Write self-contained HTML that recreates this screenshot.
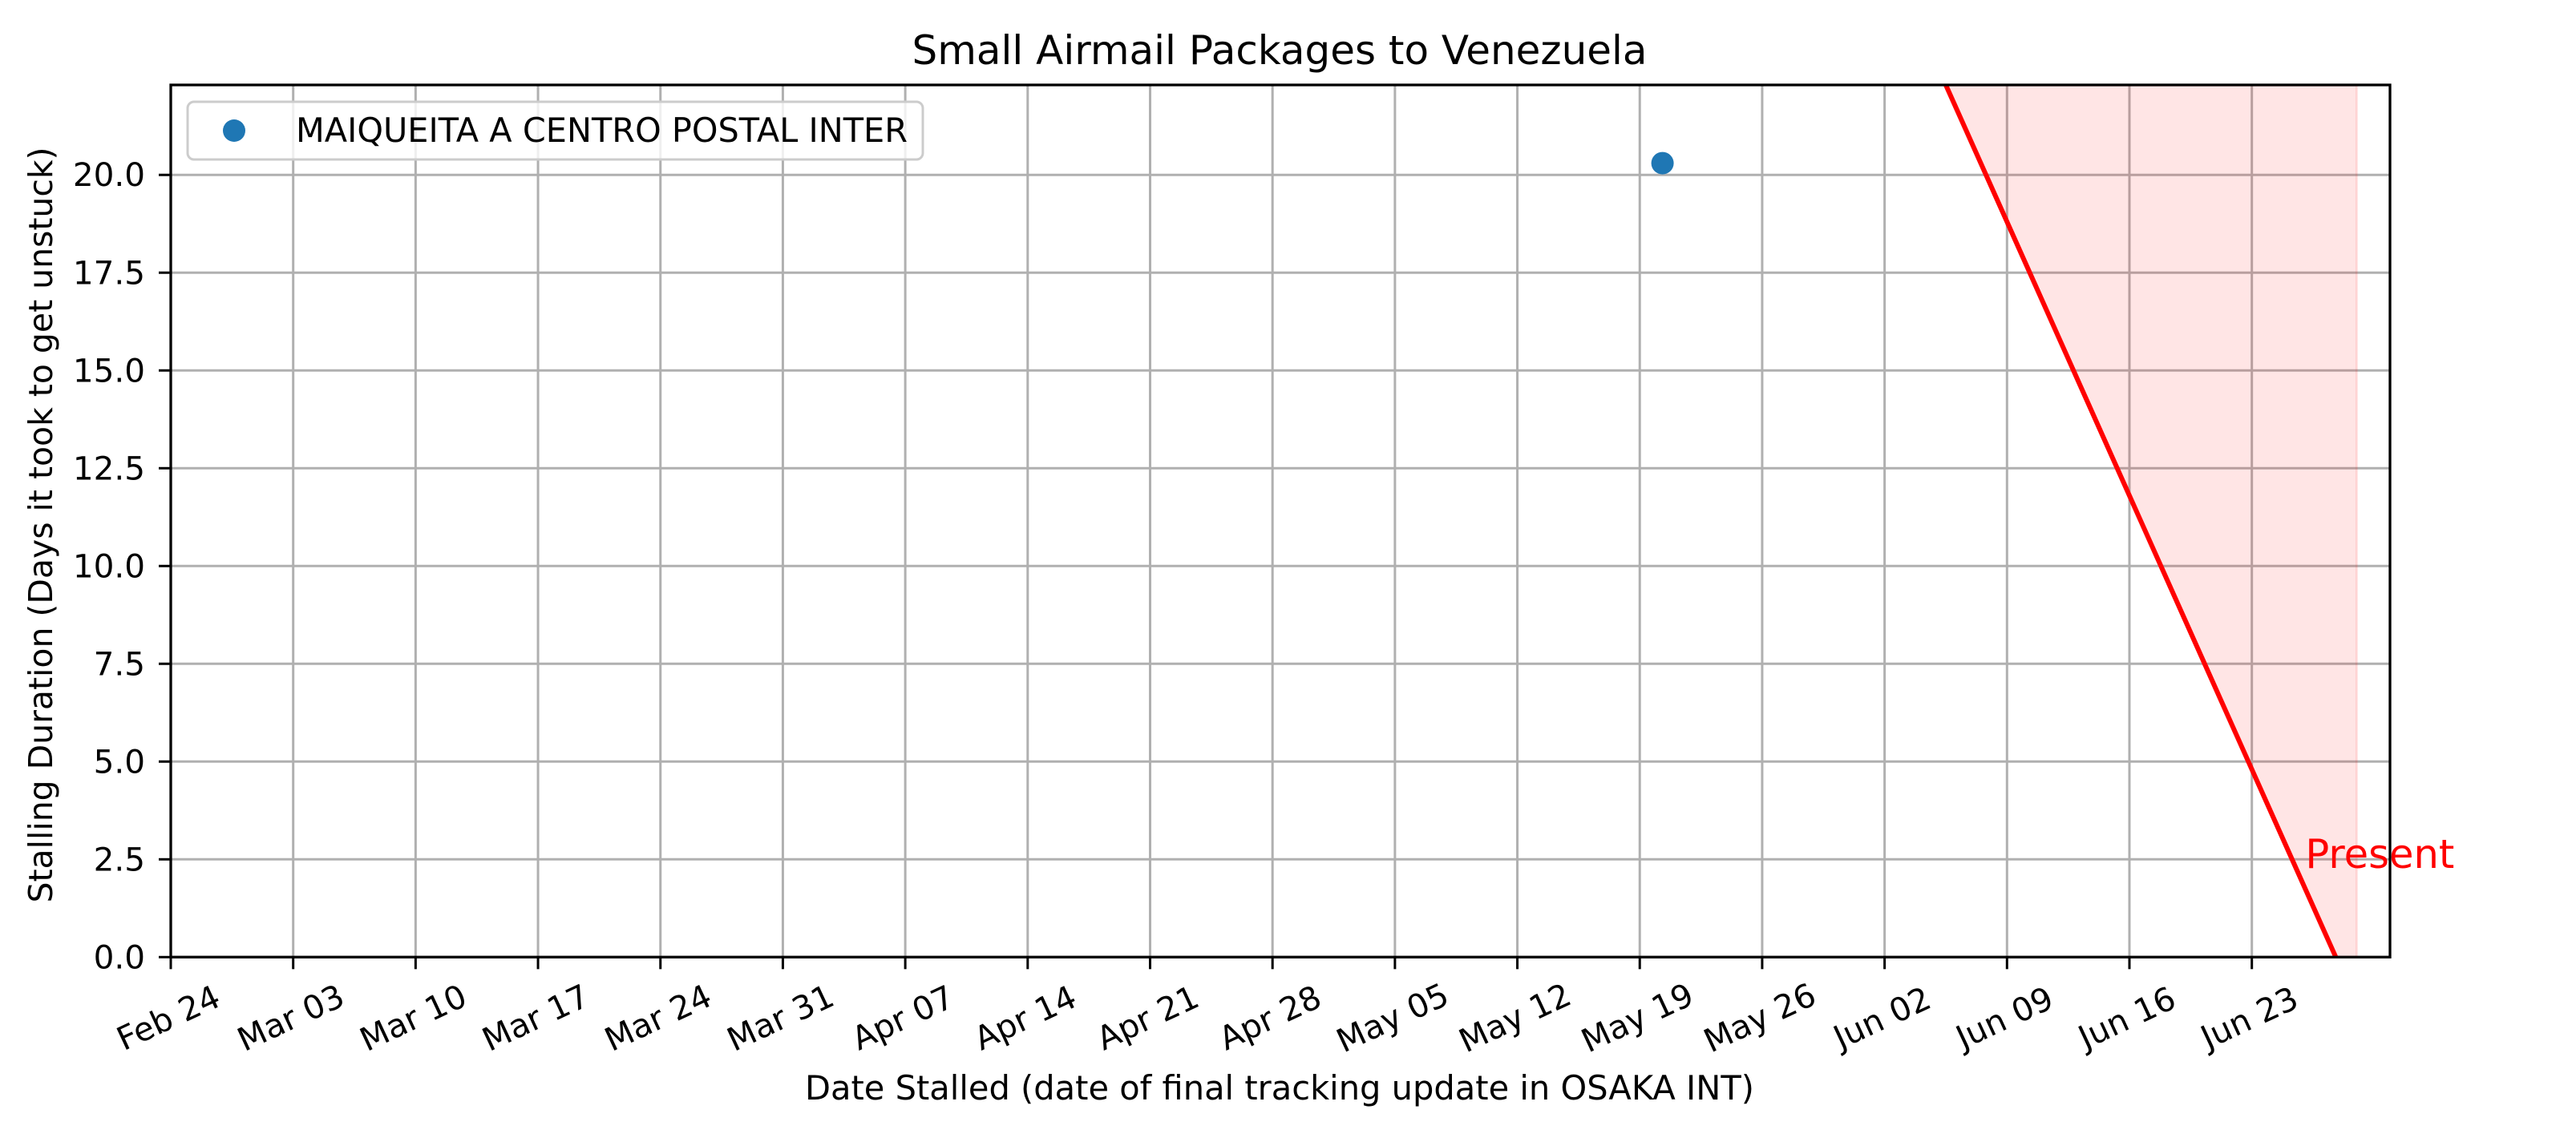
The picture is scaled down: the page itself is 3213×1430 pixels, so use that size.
<!DOCTYPE html>
<html><head><meta charset="utf-8"><style>
html,body{margin:0;padding:0;background:#fff;}
svg{display:block;font-family:"DejaVu Sans","Liberation Sans",sans-serif;}
</style></head><body>
<svg id="chart" width="3213" height="1430" viewBox="0 0 3213 1430" xmlns="http://www.w3.org/2000/svg">
<rect x="0" y="0" width="3213" height="1430" fill="#fff"/>
<g id="grid"></g>
<g id="marks"></g>
<g id="axes"></g>
<text x="1596" y="80" font-size="50" text-anchor="middle" textLength="917" lengthAdjust="spacingAndGlyphs">Small Airmail Packages to Venezuela</text>
<text x="1596" y="1372" font-size="41.5" text-anchor="middle" textLength="1184" lengthAdjust="spacingAndGlyphs">Date Stalled (date of final tracking update in OSAKA INT)</text>
<text x="0" y="0" font-size="41" text-anchor="middle" textLength="943" lengthAdjust="spacingAndGlyphs" transform="translate(65,655) rotate(-90)">Stalling Duration (Days it took to get unstuck)</text>
<g>
<rect x="234" y="127" width="917" height="72" rx="8" fill="#fff" fill-opacity="0.8" stroke="#cccccc" stroke-width="3"/>
<circle cx="292" cy="163" r="14" fill="#1f77b4"/>
<text x="369" y="177" font-size="41.5" textLength="763" lengthAdjust="spacingAndGlyphs">MAIQUEITA A CENTRO POSTAL INTER</text>
</g>
</svg>
<script>
const tickLabels = ["Feb 24","Mar 03","Mar 10","Mar 17","Mar 24","Mar 31","Apr 07","Apr 14","Apr 21","Apr 28","May 05","May 12","May 19","May 26","Jun 02","Jun 09","Jun 16","Jun 23"];
const tickDays = [0,7,14,21,28,35,42,49,56,63,70,77,84,91,98,105,112,119];
const yTicks = [0,2.5,5,7.5,10,12.5,15,17.5,20];
const yTickLabels = ["0.0","2.5","5.0","7.5","10.0","12.5","15.0","17.5","20.0"];
const pointDays = [85.3];
const pointDurations = [20.3];
const pointNames = ["MAIQUEITA A CENTRO POSTAL INTER"];
const presentDay = 123.8;
const shadeEndDay = 125.0;
const xDomain = [0, 126.9];
const yDomain = [0, 22.3];

const L=213,R=2981,T=106,B=1194.3;
const NS="http://www.w3.org/2000/svg";
function X(d){return L+(d-xDomain[0])/(xDomain[1]-xDomain[0])*(R-L);}
function Y(v){return B-(v-yDomain[0])/(yDomain[1]-yDomain[0])*(B-T);}
function mk(tag,attrs,parent){const e=document.createElementNS(NS,tag);for(const k in attrs)e.setAttribute(k,attrs[k]);parent.appendChild(e);return e;}
const grid=document.getElementById('grid'),marks=document.getElementById('marks'),axes=document.getElementById('axes');

tickDays.forEach((d,i)=>{
  const g=mk('line',{x1:X(d),x2:X(d),y1:T,y2:B,stroke:'#b0b0b0','stroke-width':3},grid);
  
  
  const t=mk('line',{x1:X(d),x2:X(d),y1:B,y2:B+15,stroke:'#000','stroke-width':3},axes);
  
  
  const lb=mk('text',{x:0,y:0,'font-size':40.5,'text-anchor':'middle','dominant-baseline':'central',transform:`translate(${X(d)-3},1270) rotate(-25)`},axes);
  lb.textContent=tickLabels[i];
  
  
});
yTicks.forEach((v,i)=>{
  const g=mk('line',{x1:L,x2:R,y1:Y(v),y2:Y(v),stroke:'#b0b0b0','stroke-width':3},grid);
  
  
  const t=mk('line',{x1:L-15,x2:L,y1:Y(v),y2:Y(v),stroke:'#000','stroke-width':3},axes);
  
  
  const lb=mk('text',{x:181,y:Y(v),'font-size':40.5,'text-anchor':'end','dominant-baseline':'central'},axes);
  lb.textContent=yTickLabels[i];
  
  
});

const topDay=presentDay-yDomain[1];
const shade=mk('polygon',{points:`${X(topDay)},${T} ${X(shadeEndDay)},${T} ${X(shadeEndDay)},${B} ${X(presentDay)},${B}`,fill:'#ff0000','fill-opacity':0.1,stroke:'#ff0000','stroke-opacity':0.1,'stroke-width':3},marks);


const pl=mk('line',{x1:X(topDay),y1:Y(yDomain[1]),x2:X(presentDay),y2:Y(0),stroke:'#ff0000','stroke-width':6},marks);


const pt=mk('text',{x:X(presentDay)-38,y:1083,'font-size':50,fill:'#ff0000',textLength:186,lengthAdjust:'spacingAndGlyphs'},marks);
pt.textContent='Present';



pointDays.forEach((d,i)=>{
  const c=mk('circle',{cx:X(d),cy:Y(pointDurations[i]),r:14,fill:'#1f77b4'},marks);
  
  
});

const frame=mk('rect',{x:L,y:T,width:R-L,height:B-T,fill:'none',stroke:'#000','stroke-width':3.3},axes);


</script>
</body></html>
